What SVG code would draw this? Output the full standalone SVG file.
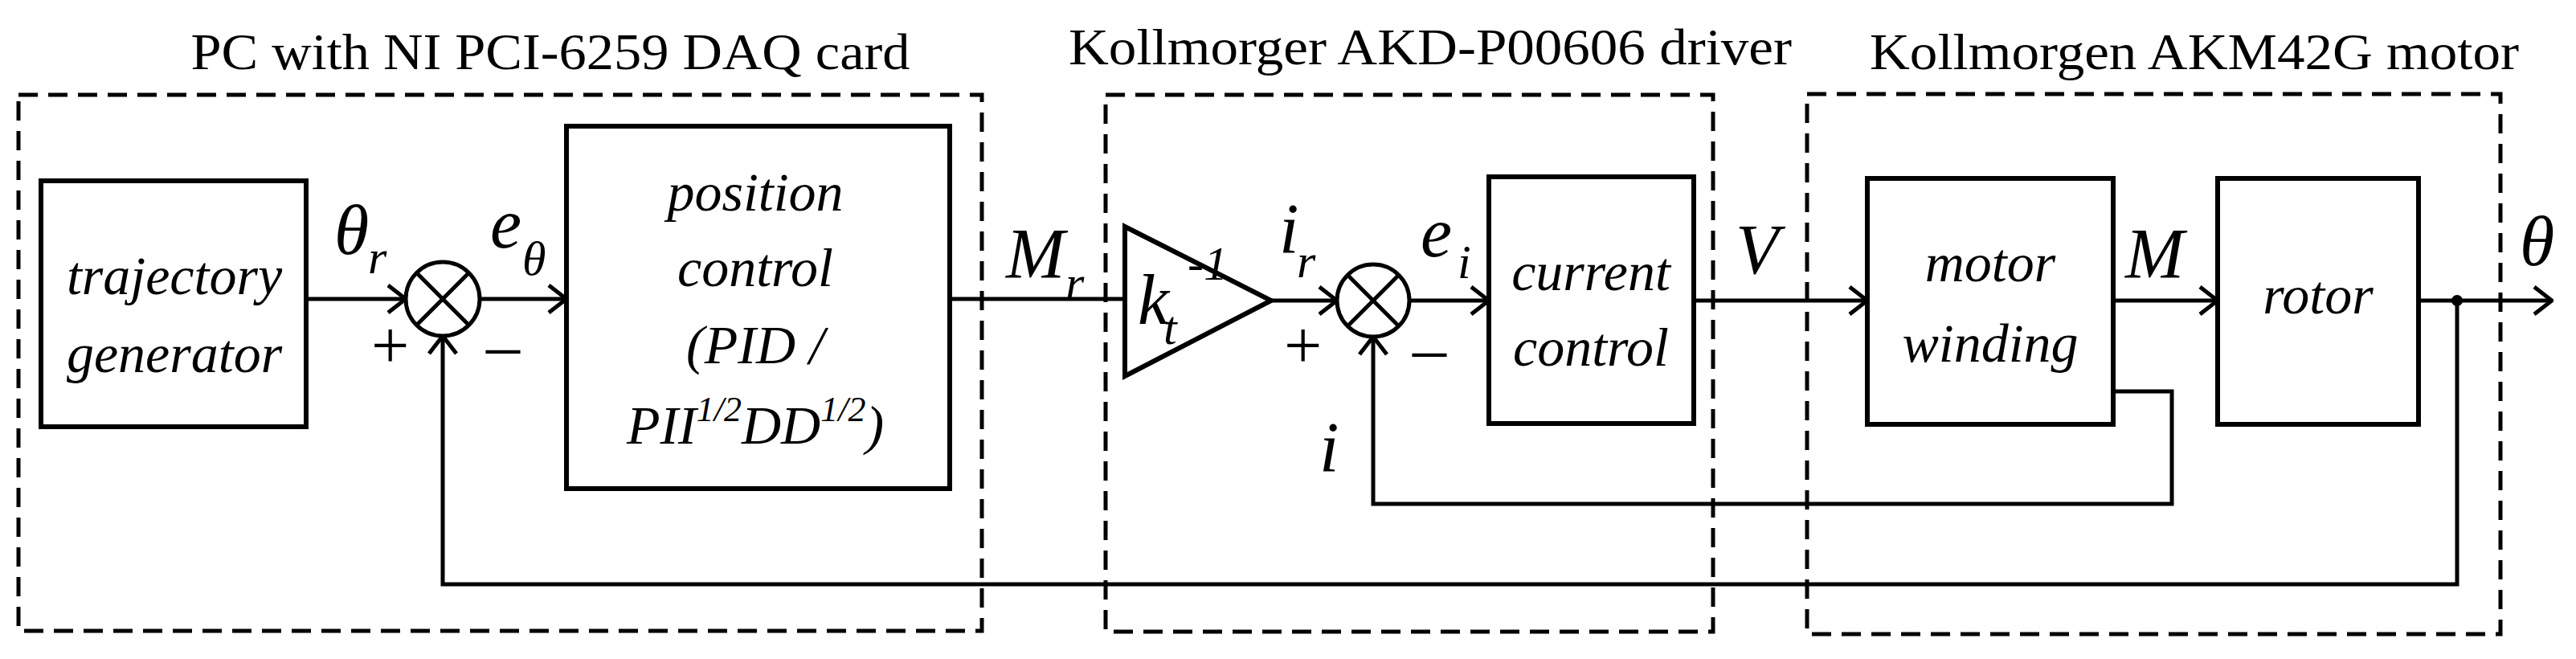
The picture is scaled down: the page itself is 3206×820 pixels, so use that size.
<svg xmlns="http://www.w3.org/2000/svg" width="3206" height="820" viewBox="0 0 3206 820">
<style>
.dash{fill:none;stroke:#000;stroke-width:5;stroke-dasharray:24 13}
.box{fill:#fff;stroke:#000;stroke-width:6}
.ln{fill:none;stroke:#000;stroke-width:5}
.t{font-family:"Liberation Serif",serif;font-size:64px;fill:#000}
.b{font-family:"Liberation Serif",serif;font-style:italic;font-size:68px;fill:#000;text-anchor:middle}
.v{font-family:"Liberation Serif",serif;font-style:italic;font-size:88px;fill:#000}
.s{font-family:"Liberation Serif",serif;font-style:italic;font-size:60px;fill:#000}
.p{font-family:"Liberation Serif",serif;font-size:84px;fill:#000}
</style>
<defs>
<marker id="a" markerUnits="userSpaceOnUse" viewBox="0 0 30 40" refX="28" refY="20" markerWidth="30" markerHeight="40" orient="auto">
<path d="M6 3 L28 20 L6 37" fill="none" stroke="#000" stroke-width="5"/>
</marker>
</defs>
<g id="groups">
<rect class="dash" x="23" y="118" width="1199" height="667"/>
<rect class="dash" x="1376" y="118" width="756" height="668"/>
<rect class="dash" x="2249" y="117" width="863" height="672"/>
<text class="t" x="685" y="86" text-anchor="middle" textLength="895" lengthAdjust="spacingAndGlyphs">PC with NI PCI-6259 DAQ card</text>
<text class="t" x="1780" y="80" text-anchor="middle" textLength="900" lengthAdjust="spacingAndGlyphs">Kollmorger AKD-P00606 driver</text>
<text class="t" x="2731" y="86" text-anchor="middle" textLength="808" lengthAdjust="spacingAndGlyphs">Kollmorgen AKM42G motor</text>
</g>
<g id="connectors">
<line class="ln" x1="381" y1="372" x2="505" y2="372" marker-end="url(#a)"/>
<line class="ln" x1="597" y1="372" x2="705" y2="372" marker-end="url(#a)"/>
<line class="ln" x1="1182" y1="372" x2="1400" y2="372"/>
<line class="ln" x1="1582" y1="374" x2="1664" y2="374" marker-end="url(#a)"/>
<line class="ln" x1="1754" y1="374" x2="1853" y2="374" marker-end="url(#a)"/>
<line class="ln" x1="2108" y1="374" x2="2324" y2="374" marker-end="url(#a)"/>
<line class="ln" x1="2630" y1="374" x2="2760" y2="374" marker-end="url(#a)"/>
<line class="ln" x1="3010" y1="374" x2="3176" y2="374" marker-end="url(#a)"/>
<circle cx="3058" cy="374" r="7" fill="#000"/>
<polyline class="ln" points="3058,374 3058,727 551,727 551,418" marker-end="url(#a)"/>
<polyline class="ln" points="2630,487 2703,487 2703,627 1709,627 1709,419" marker-end="url(#a)"/>
</g>
<g id="traj">
<rect class="box" x="51" y="225" width="330" height="306"/>
<text class="b" x="217" y="366">trajectory</text>
<text class="b" x="217" y="463">generator</text>
</g>
<g id="sum1">
<circle cx="551" cy="372" r="46" fill="#fff" stroke="#000" stroke-width="5"/>
<line class="ln" x1="518" y1="339" x2="584" y2="405"/>
<line class="ln" x1="584" y1="339" x2="518" y2="405"/>
</g>
<g id="pos">
<rect class="box" x="705" y="157" width="477" height="451"/>
<text class="b" x="940" y="262">position</text>
<text class="b" x="940" y="356">control</text>
<text class="b" x="940" y="452">(PID /</text>
<text class="b" x="940" y="552">PII<tspan font-size="44" dy="-28">1/2</tspan><tspan dy="28">DD</tspan><tspan font-size="44" dy="-28">1/2</tspan><tspan dy="28">)</tspan></text>
</g>
<g id="gain">
<polygon class="box" points="1400,282 1582,374 1400,468"/>
<text class="v" x="1416" y="403" font-size="64">k</text>
<text class="s" x="1448" y="428" font-size="42">t</text>
<text class="s" x="1478" y="348" font-size="34" font-style="normal">-1</text>
</g>
<g id="sum2">
<circle cx="1709" cy="374" r="45" fill="#fff" stroke="#000" stroke-width="5"/>
<line class="ln" x1="1677" y1="342" x2="1741" y2="406"/>
<line class="ln" x1="1741" y1="342" x2="1677" y2="406"/>
</g>
<g id="curr">
<rect class="box" x="1853" y="220" width="255" height="307"/>
<text class="b" x="1980" y="361">current</text>
<text class="b" x="1980" y="455">control</text>
</g>
<g id="wind">
<rect class="box" x="2324" y="222" width="306" height="306"/>
<text class="b" x="2477" y="350">motor</text>
<text class="b" x="2477" y="450">winding</text>
</g>
<g id="rotor">
<rect class="box" x="2760" y="222" width="250" height="306"/>
<text class="b" x="2885" y="390">rotor</text>
</g>
<g id="labels">
<text class="v" x="416" y="316">θ</text><text class="s" x="458" y="340">r</text>
<text class="v" x="610" y="308">e</text><text class="s" x="650" y="342" font-size="50">θ</text>
<text class="p" x="462" y="458">+</text><text class="p" x="605" y="458">–</text>
<text class="v" x="1252" y="345">M</text><text class="s" x="1326" y="372">r</text>
<text class="v" x="1592" y="314">i</text><text class="s" x="1614" y="345">r</text>
<text class="v" x="1768" y="319">e</text><text class="s" x="1814" y="346">i</text>
<text class="p" x="1598" y="458">+</text><text class="p" x="1758" y="462">–</text>
<text class="v" x="1642" y="586">i</text>
<text class="v" x="2160" y="340">V</text>
<text class="v" x="2645" y="345">M</text>
<text class="v" x="3136" y="330">θ</text>
</g>
</svg>
